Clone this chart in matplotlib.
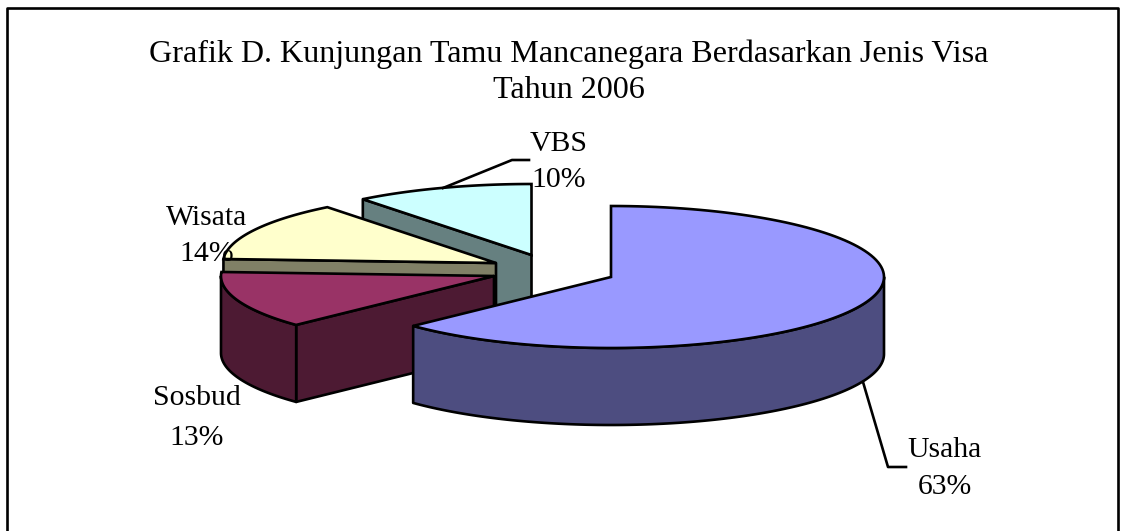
import numpy as np
import matplotlib
matplotlib.use('Agg')
import matplotlib.pyplot as plt
from matplotlib.patches import Polygon

# data
categories = ['Usaha', 'Sosbud', 'Wisata', 'VBS']
shares = [62.9, 13.0, 13.5, 10.6]  # slightly off the printed labels
percent_labels = ['63%', '13%', '14%', '10%']
top_colors = ['#9999ff', '#993366', '#ffffcc', '#ccffff']
side_colors = ['#4d4d80', '#4d1a33', '#808066', '#668080']

title_lines = ['Grafik D. Kunjungan Tamu Mancanegara Berdasarkan Jenis Visa', 'Tahun 2006']

# layout in pixels
centers = [(611, 277), (494, 276), (496, 263), (531.5, 255)]
label_pos = [(945, 450), (197, 398), (207, 218), (559, 144)]
percent_pos = [(945, 487), (197, 438), (207, 254), (559, 180)]
rx, ry, depth = 273, 71, 77
lw = 1.9


def ellipse_pts(cx, cy, a0, a1):
    # angles are clockwise from the top of the pie, in degrees
    t = np.radians(np.linspace(a0, a1, 120))
    return np.column_stack([cx + rx * np.sin(t), cy - ry * np.cos(t)])


def draw_slice(ax, cx, cy, a0, a1, top, side):
    start = ellipse_pts(cx, cy, a0, a0)[0]
    # radial face at the start angle
    face = [(cx, cy), start, start + [0, depth], (cx, cy + depth)]
    ax.add_patch(Polygon(face, closed=True, fc=side, ec='black', lw=lw, joinstyle='round'))
    # outer wall, only the part that faces the viewer
    f0, f1 = max(a0, 90), min(a1, 270)
    if f1 > f0:
        arc = ellipse_pts(cx, cy, f0, f1)
        wall = np.vstack([arc, arc[::-1] + [0, depth]])
        ax.add_patch(Polygon(wall, closed=True, fc=side, ec='black', lw=lw, joinstyle='round'))
    pts = np.vstack([[(cx, cy)], ellipse_pts(cx, cy, a0, a1)])
    ax.add_patch(Polygon(pts, closed=True, fc=top, ec='black', lw=lw, joinstyle='miter'))


fig = plt.figure(figsize=(11.26, 5.31), dpi=100)
ax = fig.add_axes([0, 0, 1, 1])
ax.set_xlim(0, 1126)
ax.set_ylim(531, 0)
ax.axis('off')

# chart frame, the bottom edge is cut off in the original
ax.plot([7, 7, 1118, 1118], [540, 8, 8, 540], color='black', lw=lw)

ends = np.cumsum(shares) * 3.6
starts = ends - np.array(shares) * 3.6

# back slices first
for i in reversed(range(len(categories))):
    draw_slice(ax, centers[i][0], centers[i][1], starts[i], ends[i], top_colors[i], side_colors[i])

# leader lines
ax.plot([443, 512, 529], [188, 160, 160], color='black', lw=lw)
ax.plot([863, 888, 906], [382, 467, 467], color='black', lw=lw)

font = dict(family='Liberation Serif', fontsize=21.4, color='black', ha='center', va='center')
for i, name in enumerate(categories):
    ax.text(label_pos[i][0], label_pos[i][1], name, **font)
    ax.text(percent_pos[i][0], percent_pos[i][1], percent_labels[i], **font)

title_font = dict(font, fontsize=23.1)
ax.text(569, 54, title_lines[0], **title_font)
ax.text(569, 90, title_lines[1], **title_font)

fig.savefig('out.png', dpi=100)
